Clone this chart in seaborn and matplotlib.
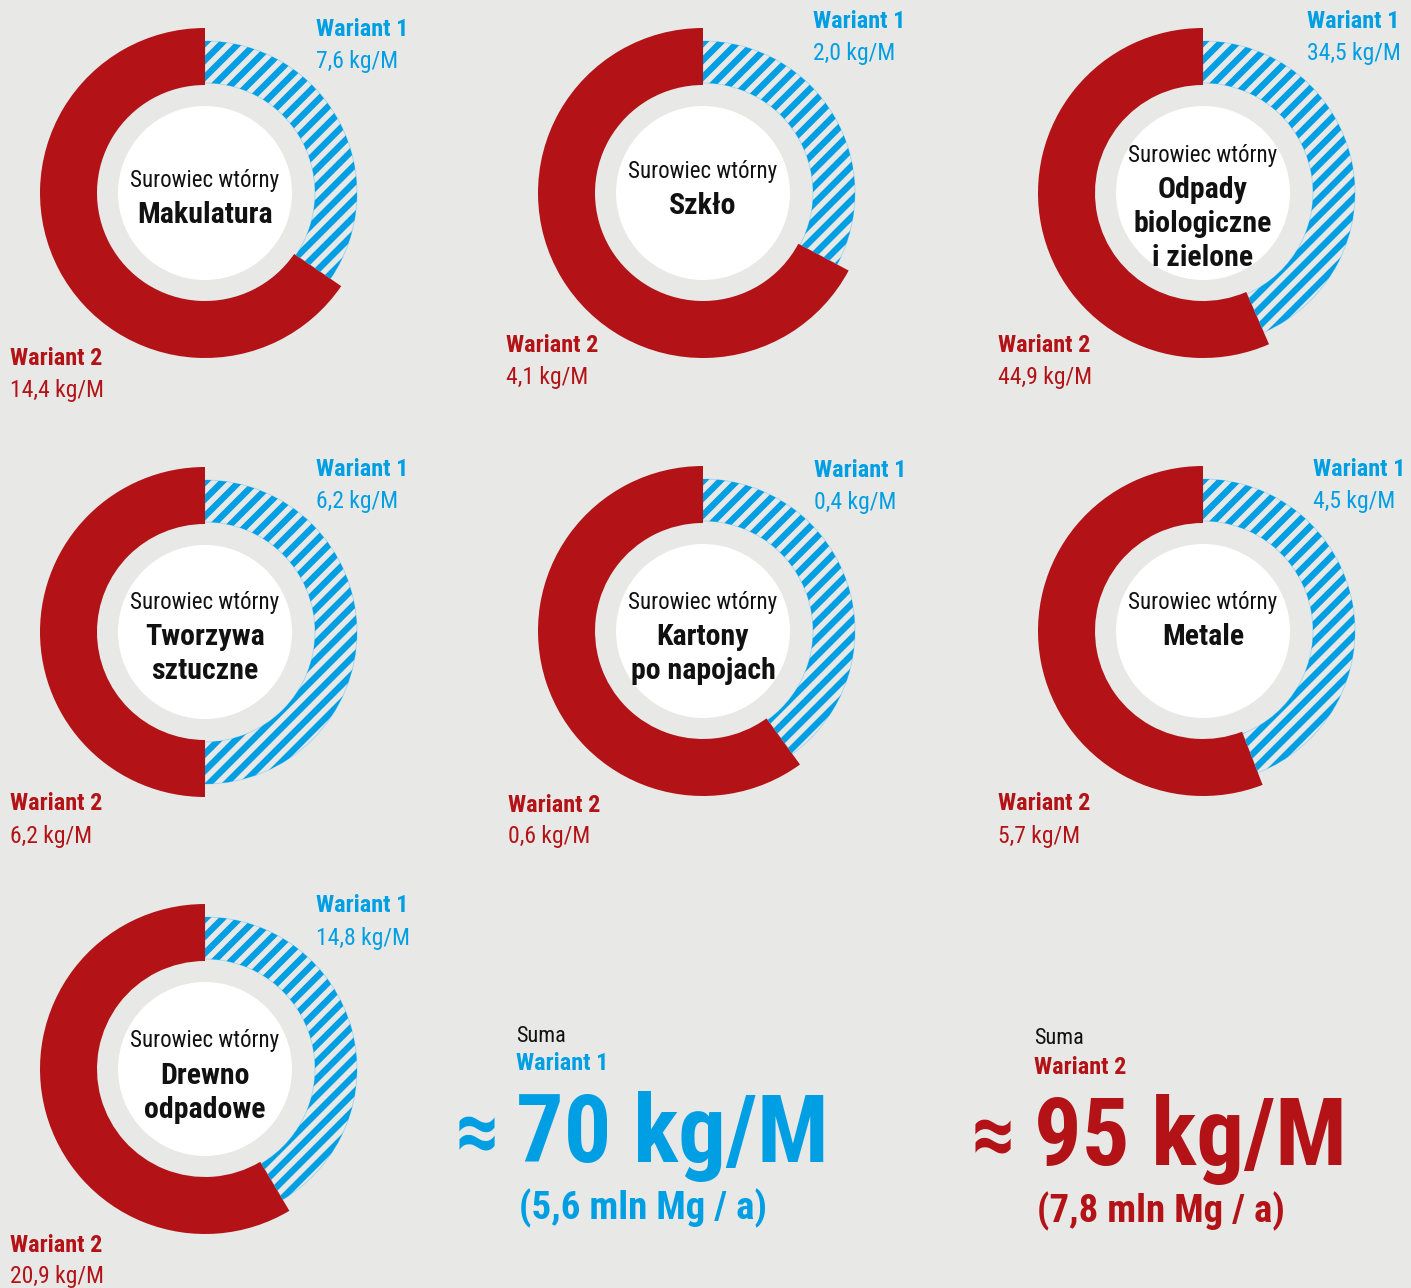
import numpy as np
import pandas as pd
import matplotlib
matplotlib.use("Agg")
import matplotlib.pyplot as plt
from matplotlib.patches import Circle
from matplotlib.collections import LineCollection
import seaborn as sns

# ---------------- data ----------------
materials = [
    ["Makulatura"],
    ["Szkło"],
    ["Odpady", "biologiczne", "i zielone"],
    ["Tworzywa", "sztuczne"],
    ["Kartony", "po napojach"],
    ["Metale"],
    ["Drewno", "odpadowe"],
]
wariant1 = [7.6, 2.0, 34.5, 6.2, 0.4, 4.5, 14.8]
wariant2 = [14.4, 4.1, 44.9, 6.2, 0.6, 5.7, 20.9]
series_names = ["Wariant 1", "Wariant 2"]
subtitle = "Surowiec wtórny"
sum_title = "Suma"
sum_kg = ["70 kg/M", "95 kg/M"]
sum_mg = ["(5,6 mln Mg / a)", "(7,8 mln Mg / a)"]

# ---------------- style ----------------
W, H = 1411, 1288
BG = "#e8e8e6"
RED = "#b31316"
BLUE = "#009fe3"

sns.set_theme(style="white", rc={"figure.facecolor": BG, "axes.facecolor": BG})
FONTS = ["Roboto Condensed", "Roboto", "DejaVu Sans"]
plt.rcParams["font.family"] = FONTS

# layout (pixel positions of donut centres and labels)
centers = [(205, 193), (703, 193), (1203, 193), (205, 632), (703, 631), (1203, 631), (205, 1069)]
w1_pos = [(316, 29), (813, 21), (1307, 21), (316, 469), (814, 470), (1313, 469), (316, 906)]
w2_pos = [(10, 358), (506, 345), (998, 345), (10, 804), (508, 805), (998, 804), (10, 1245)]
title_y = [180, 171, 155, 602, 602, 602, 1041]
STRIPE_PERIOD = 12.0   # px, perpendicular
STRIPE_WIDTH = 4.6     # pt

LBL_FS = 17.5
VAL_FS = 17
SUB_FS = 16.5
NAME_FS = 21.5

fig = plt.figure(figsize=(W / 100, H / 100), dpi=100)
ax = fig.add_axes([0, 0, 1, 1])


def Y(y):
    return H - y


def fmt(v):
    return f"{v:.1f}".replace(".", ",") + " kg/M"


df = pd.DataFrame({"material": [" ".join(m) for m in materials], "w1": wariant1, "w2": wariant2})

for i, row in df.iterrows():
    cx, cy = centers[i]
    wedges, _ = ax.pie(
        [row.w1, row.w2], radius=165, center=(cx, Y(cy)), startangle=90,
        counterclock=False, colors=[BLUE, RED],
        wedgeprops=dict(width=57, linewidth=0),
    )
    blue = wedges[0]
    blue.set_radius(152)
    blue.set_width(42)
    blue.set_facecolor(BG)
    blue.set_edgecolor("#9fd6f2")
    blue.set_linewidth(0.6)

    # diagonal stripes clipped to the Wariant 1 wedge
    d = np.array([1.0, 1.0]) / np.sqrt(2)
    nrm = np.array([-1.0, 1.0]) / np.sqrt(2)
    c0 = np.array([cx, Y(cy)])
    segs = []
    for off in np.arange(-170, 171, STRIPE_PERIOD):
        p = c0 + off * nrm
        segs.append([p - 175 * d, p + 175 * d])
    lc = LineCollection(segs, colors=BLUE, linewidths=STRIPE_WIDTH, zorder=blue.get_zorder() + 0.1)
    ax.add_collection(lc)
    lc.set_clip_path(blue)

    ax.add_patch(Circle((cx, Y(cy)), 87, facecolor="white", edgecolor="none", zorder=3))

    lines = materials[i]
    y0 = title_y[i]
    ax.text(cx, Y(y0), subtitle, ha="center", va="center", fontsize=SUB_FS, color="#111111", zorder=4)
    for k, ln in enumerate(lines):
        ax.text(cx, Y(y0 + 35 + 34 * k), ln, ha="center", va="center", fontsize=NAME_FS,
                fontweight="bold", color="#111111", zorder=4)

    x1, y1 = w1_pos[i]
    ax.text(x1, Y(y1), series_names[0], ha="left", va="center", fontsize=LBL_FS, fontweight="bold", color=BLUE)
    ax.text(x1, Y(y1 + 32), fmt(row.w1), ha="left", va="center", fontsize=VAL_FS, color=BLUE)
    x2, y2 = w2_pos[i]
    ax.text(x2, Y(y2), series_names[1], ha="left", va="center", fontsize=LBL_FS, fontweight="bold", color=RED)
    ax.text(x2, Y(y2 + 32), fmt(row.w2), ha="left", va="center", fontsize=VAL_FS, color=RED)

# summary blocks
sum_x = [516, 1034]
sum_y = [1036, 1039]
sum_cols = [BLUE, RED]
approx_x = [455, 971]
mg_x = [519, 1037]
for j in range(2):
    x, y = sum_x[j], sum_y[j]
    col = sum_cols[j]
    ax.text(x, Y(y), sum_title, ha="left", va="center", fontsize=16, color="#111111")
    ax.text(x, Y(y + 28), series_names[j], ha="left", va="center", fontsize=LBL_FS, fontweight="bold", color=col)
    ax.text(approx_x[j], Y(y + 100), "≈", ha="left", va="center", fontsize=64, fontweight="bold", color=col)
    ax.text(x, Y(y + 126), sum_kg[j], ha="left", va="baseline", fontsize=68, fontweight="bold", color=col)
    ax.text(mg_x[j], Y(y + 172), sum_mg[j], ha="left", va="center", fontsize=28, fontweight="bold", color=col)

ax.set_xlim(0, W)
ax.set_ylim(0, H)
ax.set_aspect("equal")
ax.axis("off")
fig.savefig("out.png", dpi=100, facecolor=BG)
